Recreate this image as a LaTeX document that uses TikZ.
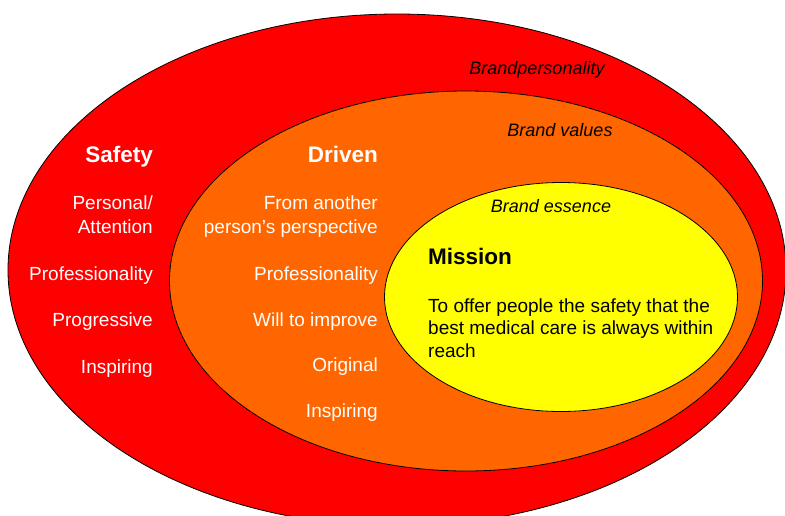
\documentclass[tikz,border=0pt]{standalone}
\usepackage{fontspec}
\setmainfont{Liberation Sans}
\usepackage{tikz}
\usetikzlibrary{shapes.geometric}
\definecolor{rojito}{RGB}{255,0,0}
\definecolor{naranjita}{RGB}{255,102,0}
\definecolor{amarillito}{RGB}{255,255,0}
\newcommand{\itemsize}{\fontsize{19}{24}\selectfont}
\tikzset{layer/.style={ellipse, draw=black, line width=0.8pt, inner sep=0pt},
	tag/.style={anchor=mid, inner sep=0pt, font=\fontsize{18}{22}\selectfont\itshape},
	heading/.style={inner sep=0pt, font=\fontsize{22.5}{27}\selectfont\bfseries},
	value/.style={text=white, inner sep=0pt, anchor=mid east, align=right, font=\itemsize}}

\begin{document}
\begin{tikzpicture}[x=1pt, y=-1pt]
	\useasboundingbox (0,0) rectangle (785,515);
	% the three layers
	\node [layer, fill=rojito, minimum width=778pt, minimum height=512pt] (personality) at (397,270) {};
	\node [layer, fill=naranjita, minimum width=593pt, minimum height=380pt] (values) at (466,281) {};
	\node [layer, fill=amarillito, minimum width=353pt, minimum height=229pt] (essence) at (561,297) {};
	\node [tag] (personalitytag) at (537,72) {Brandpersonality};
	\node [tag] (valuestag) at (560,134) {Brand values};
	\node [tag] (essencetag) at (551,210) {Brand essence};
	% personality
	\node [heading, text=white, anchor=mid east] (safety) at (153,160) {Safety};
	\node [value, anchor=base east] (attention) at (153,233) {Personal/\\Attention};
	\node [value] (profone) at (153,278) {Professionality};
	\node [value] (progressive) at (153,324) {Progressive};
	\node [value] (inspone) at (153,371) {Inspiring};
	% values
	\node [heading, text=white, anchor=mid east] (driven) at (378,160) {Driven};
	\node [value, anchor=base east] (perspective) at (378,233) {From another\\person’s perspective};
	\node [value] (proftwo) at (378,278) {Professionality};
	\node [value] (improve) at (378,324) {Will to improve};
	\node [value] (original) at (378,369) {Original};
	\node [value] (insptwo) at (378,415) {Inspiring};
	% essence
	\node [heading, anchor=mid west] (mission) at (428,262) {Mission};
	\node [inner sep=0pt, anchor=base west, align=left, font=\fontsize{19}{22.5}\selectfont] (missiontext) at (428,357) {To offer people the safety that the\\best medical care is always within\\reach};
\end{tikzpicture}
\end{document}
